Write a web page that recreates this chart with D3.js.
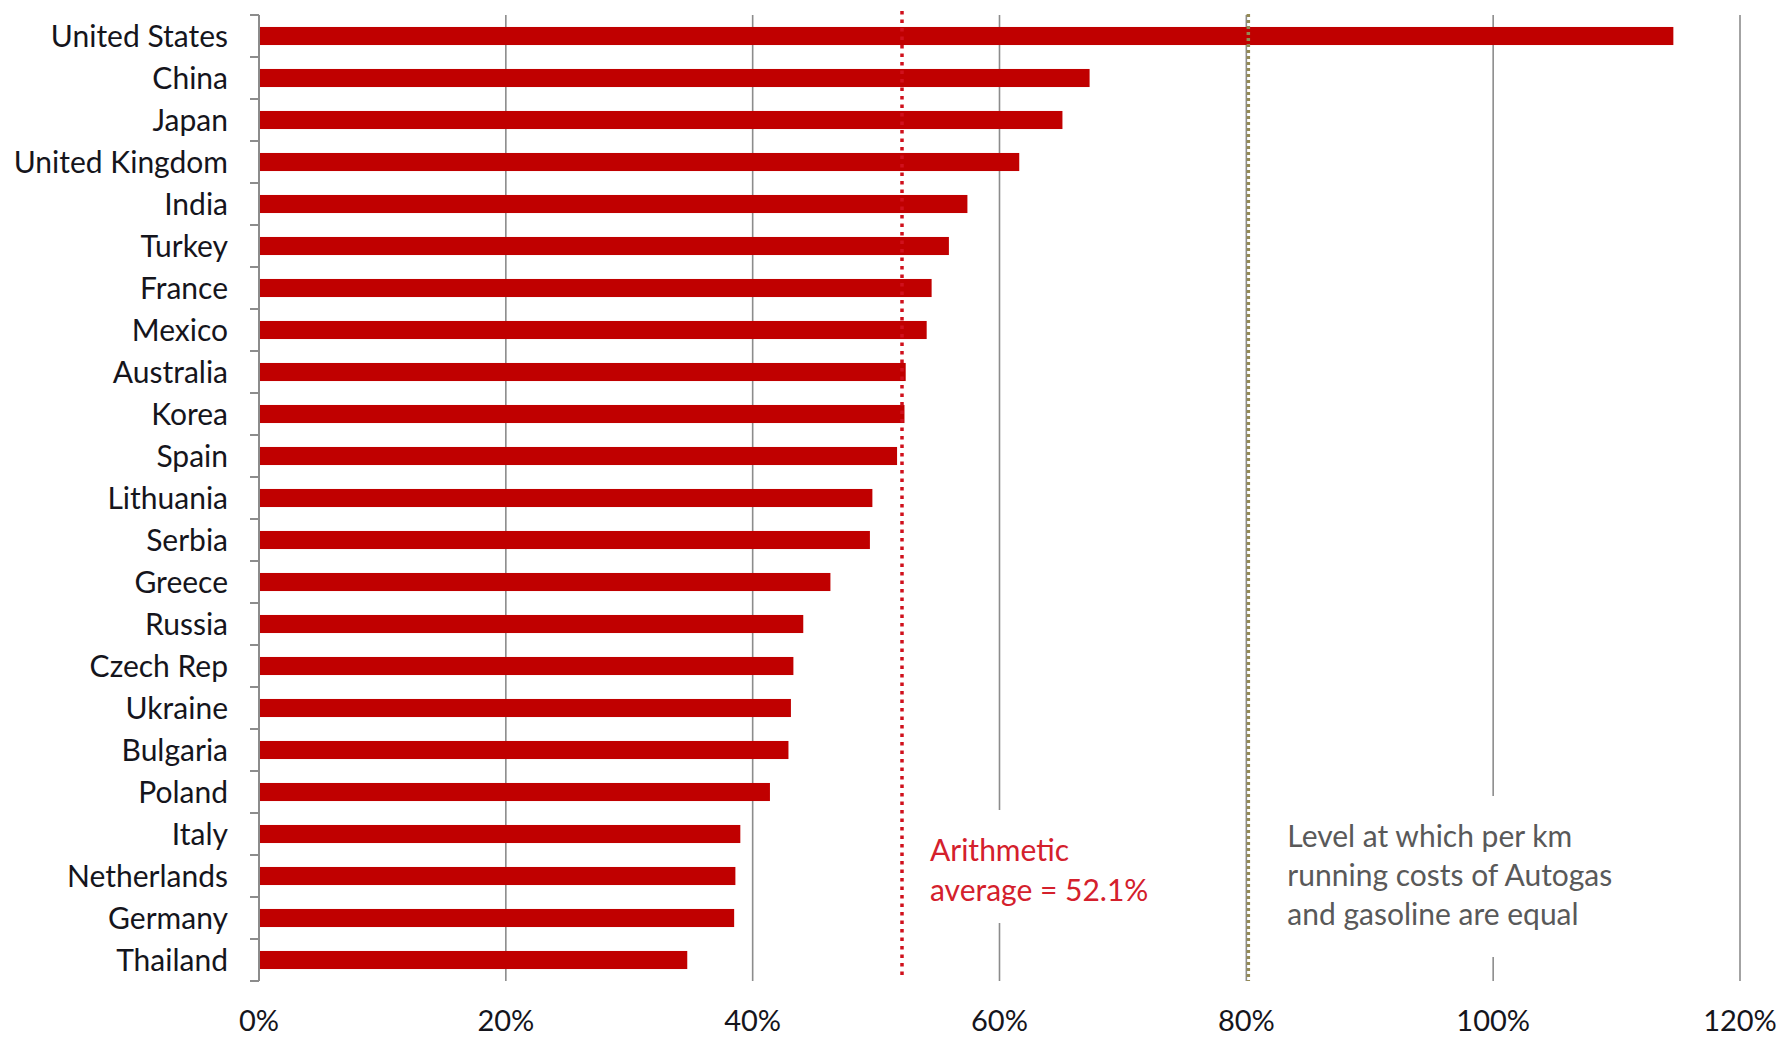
<!DOCTYPE html>
<html>
<head>
<meta charset="utf-8">
<script src="https://cdn.jsdelivr.net/npm/d3@7"></script>
<style>
  html, body { margin: 0; padding: 0; background: #fff; }
  svg text { font-family: Lato, "Open Sans", sans-serif; }
</style>
</head>
<body>
<svg id="svg"></svg>
<script>
const countries = ['United States', 'China', 'Japan', 'United Kingdom', 'India', 'Turkey',
  'France', 'Mexico', 'Australia', 'Korea', 'Spain', 'Lithuania', 'Serbia', 'Greece',
  'Russia', 'Czech Rep', 'Ukraine', 'Bulgaria', 'Poland', 'Italy', 'Netherlands',
  'Germany', 'Thailand'];
const values = [114.6, 67.3, 65.1, 61.6, 57.4, 55.9, 54.5, 54.1, 52.4, 52.3, 51.7, 49.7,
  49.5, 46.3, 44.1, 43.3, 43.1, 42.9, 41.4, 39.0, 38.6, 38.5, 34.7];
const xTicks = [0, 20, 40, 60, 80, 100, 120];
const average = 52.1;
const parity = 80;
const averageNote = ['Arithmetic', 'average = 52.1%'];
const parityNote = ['Level at which per km', 'running costs of Autogas', 'and gasoline are equal'];

const width = 1783, height = 1037;
const margin = { top: 15, right: 43, bottom: 56, left: 259 };

const svg = d3.select('#svg').attr('width', width).attr('height', height);

const x = d3.scaleLinear().domain([0, 120]).range([margin.left, width - margin.right]);
const y = d3.scaleBand().domain(countries)
  .range([margin.top, height - margin.bottom])
  .paddingInner(0.57).paddingOuter(0.285);

// vertical gridlines
svg.append('g').selectAll('line')
  .data(xTicks.filter(d => d > 0))
  .join('line')
  .attr('x1', d => x(d)).attr('x2', d => x(d))
  .attr('y1', margin.top).attr('y2', height - margin.bottom)
  .attr('stroke', '#8c8c8c').attr('stroke-width', 1.6);

// bars
svg.append('g').selectAll('rect')
  .data(countries)
  .join('rect')
  .attr('x', x(0))
  .attr('y', d => y(d))
  .attr('width', (d, i) => x(values[i]) - x(0))
  .attr('height', y.bandwidth())
  .attr('fill', '#c00000');

// category axis with ticks between bands
const yAxis = svg.append('g');
yAxis.append('line')
  .attr('x1', x(0)).attr('x2', x(0))
  .attr('y1', margin.top).attr('y2', height - margin.bottom)
  .attr('stroke', '#8c8c8c').attr('stroke-width', 2);
const step = y.step();
yAxis.selectAll('.tick')
  .data(d3.range(countries.length + 1))
  .join('line')
  .attr('class', 'tick')
  .attr('x1', x(0) - 9).attr('x2', x(0))
  .attr('y1', i => margin.top + i * step).attr('y2', i => margin.top + i * step)
  .attr('stroke', '#8c8c8c').attr('stroke-width', 2);
yAxis.selectAll('text')
  .data(countries)
  .join('text')
  .attr('x', x(0) - 31)
  .attr('y', d => y(d) + y.bandwidth() / 2)
  .attr('dy', '0.36em')
  .attr('text-anchor', 'end')
  .attr('font-size', 30)
  .attr('fill', '#15151c')
  .text(d => d);

// x tick labels
svg.append('g').selectAll('text')
  .data(xTicks)
  .join('text')
  .attr('x', d => x(d))
  .attr('y', 1031)
  .attr('text-anchor', 'middle')
  .attr('font-size', 29)
  .attr('fill', '#15151c')
  .text(d => d + '%');

// note boxes (white background hides gridlines behind text)
svg.append('rect').attr('x', x(average) + 12).attr('y', 810)
  .attr('width', 250).attr('height', 113).attr('fill', '#fff');
svg.append('rect').attr('x', x(parity) + 14).attr('y', 796)
  .attr('width', 345).attr('height', 161).attr('fill', '#fff');

// parity line: olive dotted over gridline
svg.append('line')
  .attr('x1', x(parity) + 2).attr('x2', x(parity) + 2)
  .attr('y1', margin.top - 1).attr('y2', height - margin.bottom)
  .attr('stroke', '#948a54').attr('stroke-width', 3.5)
  .attr('stroke-dasharray', '3,3');

// average line: red dotted
svg.append('line')
  .attr('x1', x(average)).attr('x2', x(average))
  .attr('y1', 11).attr('y2', 976)
  .attr('stroke', '#d0101c').attr('stroke-width', 3.5)
  .attr('stroke-dasharray', '3.5,5');

svg.append('g').selectAll('text')
  .data(averageNote)
  .join('text')
  .attr('x', x(average) + 28)
  .attr('y', (d, i) => 850 + i * 40)
  .attr('dy', '0.36em')
  .attr('font-size', 30)
  .attr('fill', '#d4202c')
  .text(d => d);

svg.append('g').selectAll('text')
  .data(parityNote)
  .join('text')
  .attr('x', x(parity) + 41)
  .attr('y', (d, i) => 836 + i * 39)
  .attr('dy', '0.36em')
  .attr('font-size', 30)
  .attr('fill', '#595959')
  .text(d => d);
</script>
</body>
</html>
